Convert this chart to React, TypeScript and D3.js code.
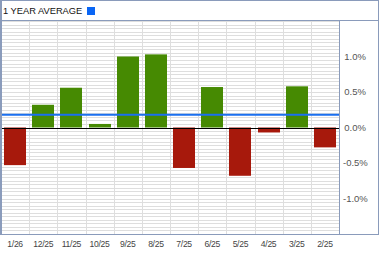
import React from "react";
import * as d3 from "d3";

const categories = ["1/26", "12/25", "11/25", "10/25", "9/25", "8/25", "7/25", "6/25", "5/25", "4/25", "3/25", "2/25"];
const values = [-0.53, 0.32, 0.56, 0.05, 1.0, 1.03, -0.57, 0.57, -0.68, -0.07, 0.58, -0.28];
const average = [0.18];
const yTicks = [1.0, 0.5, 0.0, -0.5, -1.0];
const yTickLabels = ["1.0%", "0.5%", "0.0%", "-0.5%", "-1.0%"];
const legendLabel = ["1 YEAR AVERAGE"];

const W = 379;
const H = 255;
const plotLeft = 0.5;
const plotRight = 339.5;
const plotTop = 20.5;
const plotBottom = 234.5;
const border = "#8a9bbb";

export default function App() {
  const x = d3.scaleBand<string>().domain(categories).range([1, 339]).paddingInner(0.22).paddingOuter(0.11);
  const bandStep = x.step();
  const y = d3.scaleLinear().domain([-1.5, 1.5]).range([234, 21]);
  const minorGrid = d3.range(-1.5, 1.5001, 0.05);
  const font = "'Liberation Sans', Arial, sans-serif";
  const bounds = categories.map((_, i) => 1 + (i + 1) * ((339 - 1) / categories.length));

  return (
    <svg width={W} height={H} style={{ position: "absolute", left: 0, top: 0, background: "#fff" }} fontFamily={font}>
      <rect x={0} y={0} width={W} height={H} fill="#fff" />
      {/* grid */}
      {minorGrid.map((v, i) => (
        <line key={"h" + i} x1={1} x2={339} y1={Math.round(y(v)) + 0.5} y2={Math.round(y(v)) + 0.5} stroke="#dedede" strokeWidth={1} />
      ))}
      {bounds.slice(0, -1).map((bx, i) => (
        <line key={"v" + i} x1={Math.round(bx) + 0.5} x2={Math.round(bx) + 0.5} y1={21} y2={234} stroke="#dedede" strokeWidth={1} />
      ))}
      {/* bars */}
      {values.map((v, i) => {
        const y0 = y(0);
        const y1 = y(v);
        return (
          <rect
            key={"b" + i}
            x={Math.round(x(categories[i])!)}
            width={Math.round(x.bandwidth())}
            y={Math.min(y0, y1)}
            height={Math.abs(y1 - y0)}
            fill={v >= 0 ? "#468a02" : "#a7190c"}
          />
        );
      })}
      {/* zero line */}
      <line x1={1} x2={339} y1={Math.round(y(0)) + 0.5} y2={Math.round(y(0)) + 0.5} stroke="#000" strokeWidth={1} />
      {/* average line */}
      <line x1={1} x2={339} y1={y(average[0])} y2={y(average[0])} stroke="#1a6ff0" strokeWidth={2} />
      {/* frame */}
      <line x1={0} x2={W} y1={0.5} y2={0.5} stroke={border} />
      <line x1={0} x2={W} y1={plotTop} y2={plotTop} stroke={border} />
      <line x1={0} x2={W} y1={plotBottom} y2={plotBottom} stroke={border} />
      <line x1={1} x2={1} y1={0} y2={235} stroke={border} strokeWidth={2} />
      <line x1={W - 0.5} x2={W - 0.5} y1={0} y2={235} stroke={border} />
      <line x1={plotRight} x2={plotRight} y1={plotTop} y2={plotBottom} stroke={border} />
      {/* header */}
      <text x={3} y={14} fontSize={9.3} fill="#111">{legendLabel[0]}</text>
      <rect x={87} y={7} width={8} height={8} fill="#0a66f5" />
      {/* y axis labels */}
      {yTicks.map((t, i) => (
        <text key={"yt" + i} x={t < 0 ? 343 : 344.3} y={y(t) + 3.3} fontSize={9.5} fill="#555">{yTickLabels[i]}</text>
      ))}
      {/* x axis labels */}
      {categories.map((c, i) => (
        <text key={"xt" + i} x={x(c)! + x.bandwidth() / 2} y={246.5} fontSize={8.6} letterSpacing={-0.3} textAnchor="middle" fill="#444">{c}</text>
      ))}
    </svg>
  );
}
